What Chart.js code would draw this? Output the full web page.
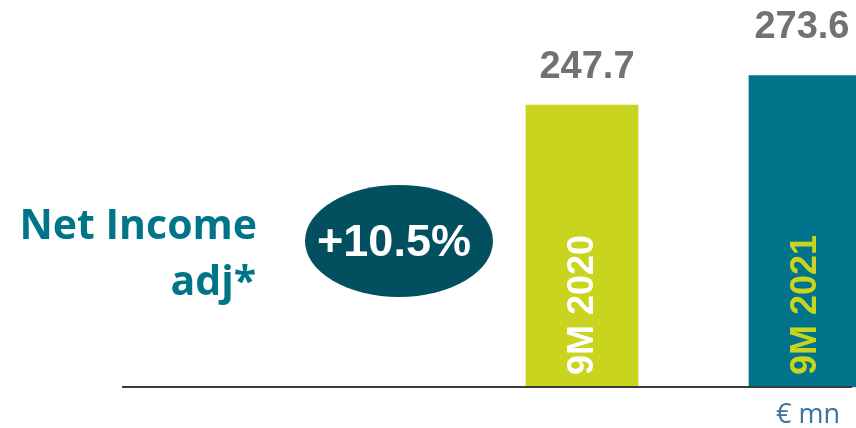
<!DOCTYPE html>
<html>
<head>
<meta charset="utf-8">
<script src="https://cdn.jsdelivr.net/npm/chart.js@4"></script>
<style>
  html, body { margin: 0; padding: 0; background: #fff; }
  #wrap { width: 856px; height: 428px; }
</style>
</head>
<body>
<div id="wrap"><canvas id="incomeChart"></canvas></div>
<script>
    // data
    const periods = ['9M 2020', '9M 2021'];
    const netIncome = [247.7, 273.6];
    const barColors = ['#c9d41f', '#01738a'];
    const periodLabelColors = ['#ffffff', '#c9d41f'];
    const growthLabel = '+10.5%';
    const titleLines = ['Net Income', 'adj*'];
    const unitLabel = '€ mn';

    // draws the baseline, value labels, rotated period labels and side text
    const slideDecor = {
        id: 'slideDecor',
        afterDatasetsDraw(chart) {
            const ctx = chart.ctx;
            const area = chart.chartArea;
            const yScale = chart.scales.y;
            const bars = chart.getDatasetMeta(0).data;
            const zeroY = yScale.getPixelForValue(0);

            ctx.save();
            // baseline
            ctx.strokeStyle = '#3a3a3a';
            ctx.lineWidth = 2;
            ctx.beginPath();
            ctx.moveTo(area.left, zeroY);
            ctx.lineTo(area.right, zeroY);
            ctx.stroke();

            bars.forEach((bar, i) => {
                // value above bar (slide placed them by hand, slightly off-centre)
                ctx.fillStyle = '#767171';
                ctx.font = 'bold 38px "Liberation Sans", Arial, sans-serif';
                ctx.textAlign = 'center';
                ctx.textBaseline = 'alphabetic';
                ctx.fillText(netIncome[i].toFixed(1), bar.x + (i === 0 ? 5 : -3), bar.y - (i === 0 ? 27 : 38));

                // period label, rotated inside bar
                ctx.save();
                ctx.translate(bar.x + 11, zeroY - 12);
                ctx.rotate(-Math.PI / 2);
                ctx.fillStyle = periodLabelColors[i];
                ctx.font = 'bold 36px "Liberation Sans", Arial, sans-serif';
                ctx.textAlign = 'left';
                ctx.fillText(periods[i], 0, 0);
                ctx.restore();
            });

            // unit
            ctx.fillStyle = '#3a73a0';
            ctx.font = '27px "Open Sans", sans-serif';
            ctx.textAlign = 'center';
            ctx.fillText(unitLabel, 808, 423);

            // title
            ctx.fillStyle = '#00758a';
            ctx.font = 'bold 41px "Open Sans", sans-serif';
            ctx.textAlign = 'right';
            ctx.fillText(titleLines[0], 257, 239);
            ctx.fillText(titleLines[1], 256, 295);

            // growth bubble
            ctx.fillStyle = '#02505f';
            ctx.beginPath();
            ctx.ellipse(399, 241, 94, 56, 0, 0, Math.PI * 2);
            ctx.fill();
            ctx.fillStyle = '#ffffff';
            ctx.font = 'bold 45px "Liberation Sans", Arial, sans-serif';
            ctx.textAlign = 'center';
            ctx.fillText(growthLabel, 394, 256);
            ctx.restore();
        }
    };

    new Chart(document.getElementById('incomeChart'), {
        type: 'bar',
        data: {
            datasets: [{
                data: periods.map((p, i) => ({ x: i, y: netIncome[i] })),
                backgroundColor: barColors,
                borderWidth: 0,
                barThickness: 112,
                clip: false
            }]
        },
        options: {
            responsive: true,
            maintainAspectRatio: false,
            animation: false,
            layout: { padding: { left: 122, right: 4, top: 0, bottom: 41 } },
            scales: {
                x: { type: 'linear', min: -2.063, max: 1.211, offset: false, display: false },
                y: { min: 0, max: 340, display: false }
            },
            plugins: {
                legend: { display: false },
                tooltip: { enabled: false }
            }
        },
        plugins: [slideDecor]
    });
</script>
</body>
</html>
